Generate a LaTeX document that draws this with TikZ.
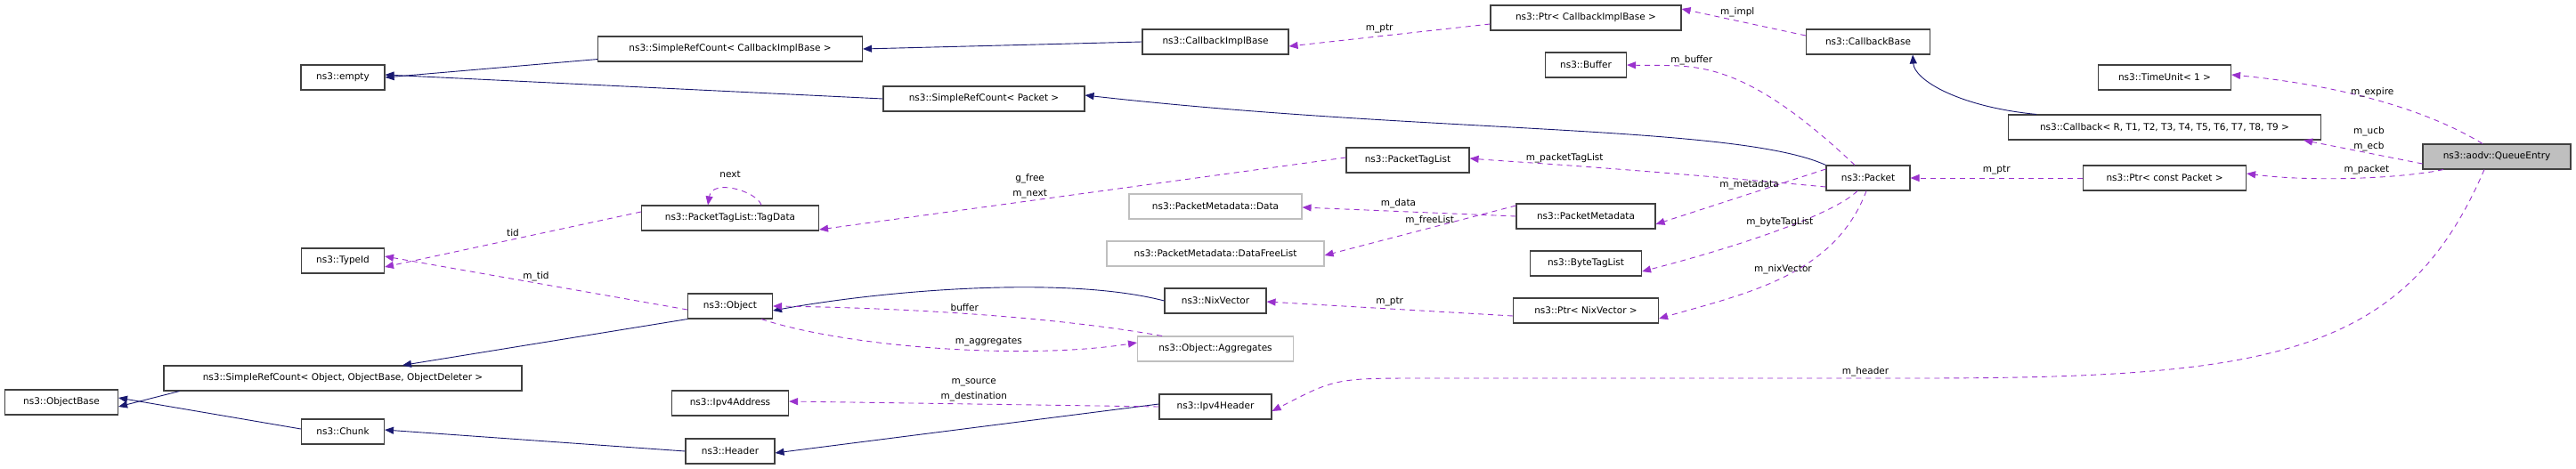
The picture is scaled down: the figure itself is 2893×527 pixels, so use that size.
\documentclass[tikz,border=0pt]{standalone}
\usepackage{fontspec}
\setmainfont{DejaVu Sans}
\usetikzlibrary{arrows.meta}
\definecolor{inhc}{HTML}{191970}
\definecolor{memc}{HTML}{9A32CD}
\definecolor{bd}{HTML}{404040}
\definecolor{gbd}{HTML}{BFBFBF}
\begin{document}
\begin{tikzpicture}[x=1pt,y=-1pt,
  every node/.style={font=\fontsize{10.5}{12}\selectfont},
  box/.style={draw=bd,line width=1.1pt,fill=white,minimum height=28pt,inner sep=0pt,anchor=center},
  gbox/.style={box,draw=gbd},
  cur/.style={box,fill=gray!50},
  inh/.style={draw=inhc,line width=0.9pt,-{Triangle[width=8pt,length=10pt]}},
  mem/.style={draw=memc,line width=0.9pt,dash pattern=on 6pt off 5pt,-{Triangle[width=8pt,length=10pt]}},
  lab/.style={inner sep=0pt,align=center,font=\fontsize{10.5}{17}\selectfont}]
\useasboundingbox (0,0) rectangle (2893,527);
% nodes
\node[box,minimum width=94] (empty) at (385,87) {ns3::empty};
\node[box,minimum width=297] (srccib) at (820,55) {ns3::SimpleRefCount< CallbackImplBase >};
\node[box,minimum width=93] (typeid) at (385,293) {ns3::TypeId};
\node[box,minimum width=199] (tagdata) at (820,245) {ns3::PacketTagList::TagData};
\node[box,minimum width=95] (object) at (820,344) {ns3::Object};
\node[box,minimum width=402] (srcobj) at (385,425) {ns3::SimpleRefCount< Object, ObjectBase, ObjectDeleter >};
\node[box,minimum width=127] (objbase) at (69,452) {ns3::ObjectBase};
\node[box,minimum width=93] (chunk) at (385,485) {ns3::Chunk};
\node[box,minimum width=131] (ipv4addr) at (820,453) {ns3::Ipv4Address};
\node[box,minimum width=100] (header) at (820,507) {ns3::Header};
\node[box,minimum width=164] (cib) at (1365,47) {ns3::CallbackImplBase};
\node[box,minimum width=226] (srcpkt) at (1105,111) {ns3::SimpleRefCount< Packet >};
\node[box,minimum width=138] (ptl) at (1581,180) {ns3::PacketTagList};
\node[gbox,minimum width=194] (pmdata) at (1365,232) {ns3::PacketMetadata::Data};
\node[gbox,minimum width=244] (pmfree) at (1365,285) {ns3::PacketMetadata::DataFreeList};
\node[box,minimum width=114] (nix) at (1365,338) {ns3::NixVector};
\node[gbox,minimum width=175] (aggr) at (1365,392) {ns3::Object::Aggregates};
\node[box,minimum width=126] (ipv4hdr) at (1365,457) {ns3::Ipv4Header};
\node[box,minimum width=214] (ptrcib) at (1781,20) {ns3::Ptr< CallbackImplBase >};
\node[box,minimum width=91] (buffer) at (1781,73) {ns3::Buffer};
\node[box,minimum width=156] (pm) at (1781,243) {ns3::PacketMetadata};
\node[box,minimum width=125] (btl) at (1781,296) {ns3::ByteTagList};
\node[box,minimum width=163] (ptrnix) at (1781,349) {ns3::Ptr< NixVector >};
\node[box,minimum width=139] (cbbase) at (2098,47) {ns3::CallbackBase};
\node[box,minimum width=94] (packet) at (2098,200) {ns3::Packet};
\node[box,minimum width=149] (timeunit) at (2431,87) {ns3::TimeUnit< 1 >};
\node[box,minimum width=351] (callback) at (2431,143) {ns3::Callback< R, T1, T2, T3, T4, T5, T6, T7, T8, T9 >};
\node[box,minimum width=183] (ptrpkt) at (2431,200) {ns3::Ptr< const Packet >};
\node[cur,minimum width=166] (qe) at (2804,176) {ns3::aodv::QueueEntry};
% inheritance
\draw[inh] (srccib.south west) ++(0,-3) -- (empty.east);
\draw[inh] (srcpkt.west) -- ([yshift=3]empty.east);
\draw[inh] (cib.west) -- (srccib.east);
\draw[inh] (packet.north west) .. controls (1950,140) and (1600,150) .. ([yshift=4]srcpkt.east);
\draw[inh] (callback.north west) ++(32,0) .. controls (2200,120) and (2150,90) .. ([xshift=-20]cbbase.south east);
\draw[inh] (nix.west) .. controls (1200,310) and (1000,325) .. ([yshift=-5]object.east);
\draw[inh] (object.south west) -- ([xshift=67]srcobj.north);
\draw[inh] (srcobj.south west) ++(18,0) -- ([yshift=-5]objbase.east);
\draw[inh] (chunk.west) ++(0,-3) -- ([yshift=5]objbase.east);
\draw[inh] (header.west) -- ([yshift=2]chunk.east);
\draw[inh] ([yshift=3]ipv4hdr.west) -- ([yshift=-2]header.east);
% members
\draw[mem] (ptrcib.west) ++(0,7) -- ([yshift=-5]cib.east) node[lab,pos=0.55,above=3pt] {m\_ptr};
\draw[mem] (cbbase.west) ++(0,-7) -- ([yshift=10]ptrcib.east) node[lab,pos=0.55,above=4pt] {m\_impl};
\draw[mem] (packet.north) ++(-15,0) .. controls (1950,60) and (1900,75) .. ([yshift=0]buffer.east) node[lab,pos=0.65,above=2pt] {m\_buffer};
\draw[mem] ([yshift=-10]packet.west) .. controls (1800,187) and (1700,182) .. ([yshift=2]ptl.east) node[lab,pos=0.55,above=2pt] {m\_packetTagList};
\draw[mem] ([yshift=3]ptl.west) -- ([yshift=-13]tagdata.east) node[lab,pos=0.6,above=2pt] {g\_free\\m\_next};
\draw[mem] ([xshift=35]tagdata.north) .. controls (850,215) and (800,200) .. ([xshift=-25]tagdata.north);
\node[lab] (nextl) at (820,196) {next};
\draw[mem] ([yshift=7]tagdata.west) -- ([yshift=-7]typeid.east) node[lab,pos=0.5,above=3pt] {tid};
\draw[mem] ([yshift=-4]object.west) -- ([yshift=5]typeid.east) node[lab,pos=0.5,above=2pt] {m\_tid};
\draw[mem] ([xshift=-60]aggr.north) .. controls (1150,350) and (950,345) .. ([yshift=0]object.east) node[lab,pos=0.45,above=2pt] {buffer};
\draw[mem] ([xshift=35]object.south) .. controls (950,390) and (1150,405) .. ([yshift=7]aggr.west) node[lab,pos=0.62,above=4pt] {m\_aggregates};
\draw[mem] (pm.west) -- ([yshift=-1]pmdata.east) node[lab,pos=0.55,above=3pt] {m\_data};
\draw[mem] ([yshift=12]pm.west) -- ([yshift=-2]pmfree.east) node[lab,pos=0.45,above=3pt] {m\_freeList};
\draw[mem] ([yshift=10]packet.west) -- ([yshift=-9]pm.east) node[lab,pos=0.45,above=4pt] {m\_metadata};
\draw[mem] ([xshift=-12]packet.south) .. controls (2060,240) and (1960,275) .. ([yshift=-9]btl.east) node[lab,pos=0.5,above=3pt] {m\_byteTagList};
\draw[mem] ([xshift=-2]packet.south) .. controls (2060,310) and (1960,330) .. ([yshift=-9]ptrnix.east) node[lab,pos=0.5,above=3pt] {m\_nixVector};
\draw[mem] ([yshift=-6]ptrnix.west) -- ([yshift=-1]nix.east) node[lab,pos=0.5,above=3pt] {m\_ptr};
\draw[mem] (ipv4hdr.west) -- ([yshift=2]ipv4addr.east) node[lab,pos=0.5,above=3pt] {m\_source\\m\_destination};
\draw[mem] (ptrpkt.west) -- (packet.east) node[lab,pos=0.5,above=4pt] {m\_ptr};
\draw[mem] ([xshift=-16]qe.north) .. controls (2720,120) and (2620,95) .. ([yshift=3]timeunit.east) node[lab,pos=0.5,above=2pt] {m\_expire};
\draw[mem] ([yshift=-8]qe.west) -- ([xshift=-20]callback.south east) node[lab,pos=0.45,above=2pt] {m\_ucb\\m\_ecb};
\draw[mem] ([xshift=-60]qe.south) .. controls (2700,200) and (2600,205) .. ([yshift=5]ptrpkt.east) node[lab,pos=0.45,above=3pt] {m\_packet};
\draw[mem] ([xshift=-14]qe.south) .. controls (2700,400) and (2550,425) .. (2150,425) -- (1600,425) node[lab,pos=0.1,above=2pt] {m\_header}  .. controls (1500,425) .. ([yshift=-5]ipv4hdr.east);
\end{tikzpicture}
\end{document}
